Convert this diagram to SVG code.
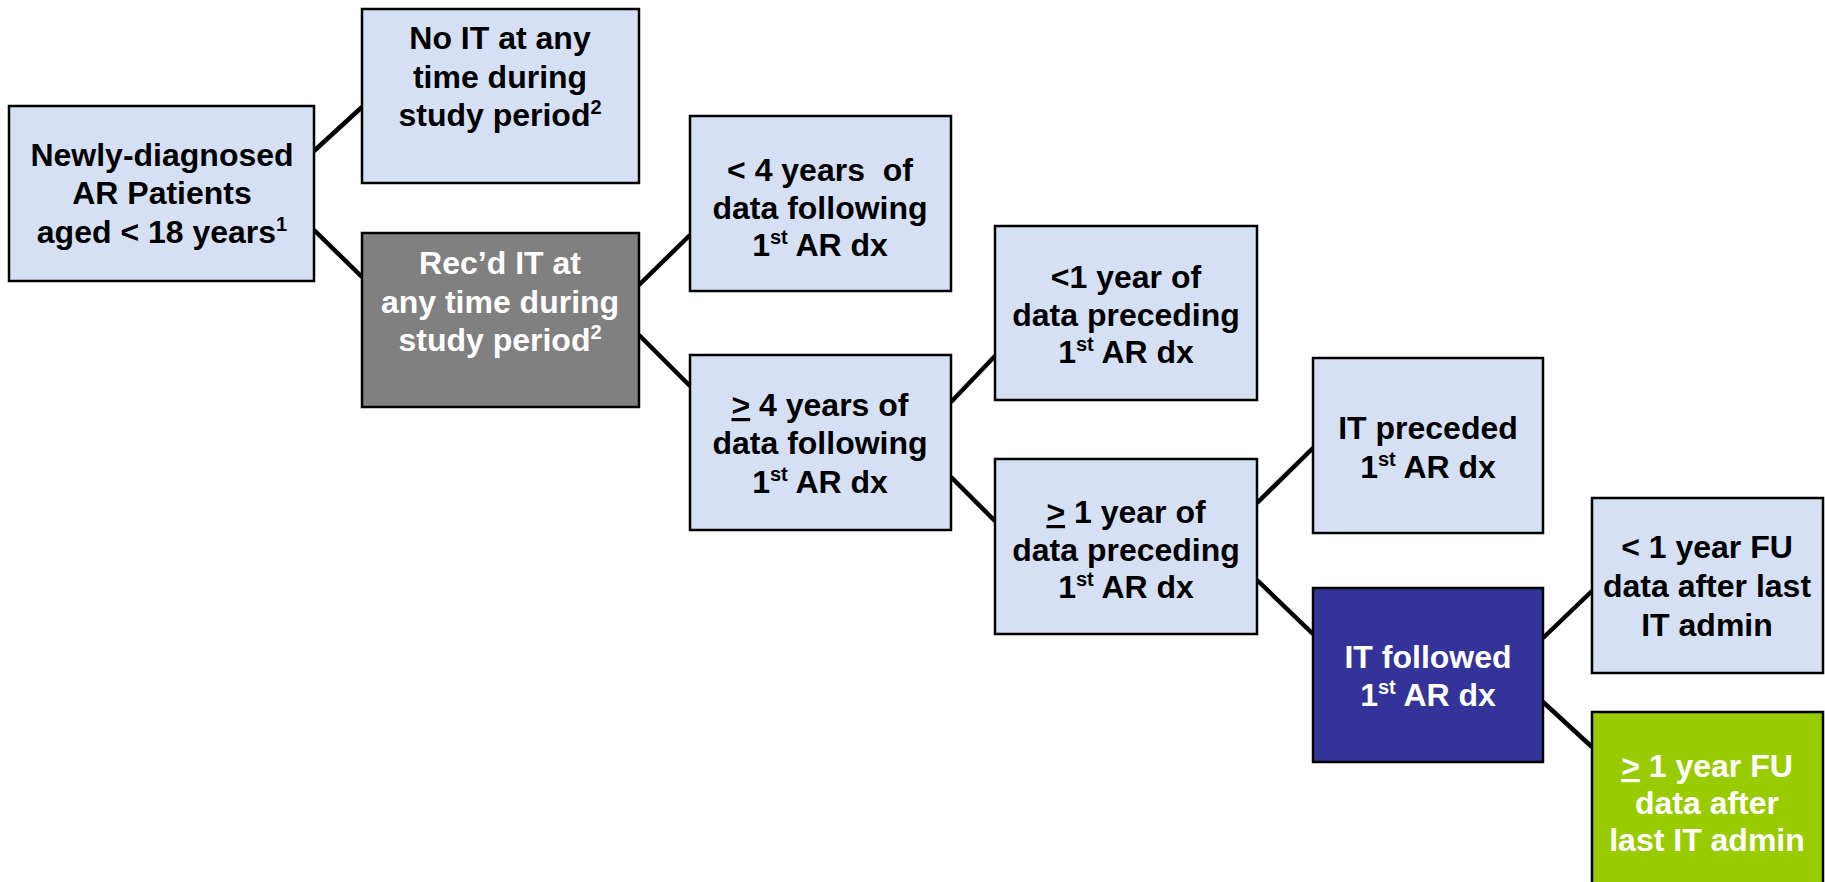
<svg xmlns="http://www.w3.org/2000/svg" width="1825" height="882" viewBox="0 0 1825 882">
<style>
.box{stroke:#000;stroke-width:2.5}
.lb{fill:#D6E0F4}
.gr{fill:#808080}
.db{fill:#333399}
.gn{fill:#99CC00}
text{font-family:"Liberation Sans",Arial,sans-serif;font-weight:bold;font-size:32px;text-anchor:middle;white-space:pre}
.k{fill:#000}
.w{fill:#fff}
.sup{font-size:20px}
.u{text-decoration:underline}
.conn line{stroke:#000;stroke-width:4.5}
</style>
<rect width="1825" height="882" fill="#fff"/>
<g class="conn" id="connectors">
<line x1="314" y1="151" x2="362" y2="107"/>
<line x1="314" y1="230" x2="362" y2="277"/>
<line x1="639" y1="285" x2="690" y2="235"/>
<line x1="639" y1="335" x2="690" y2="386"/>
<line x1="951" y1="402" x2="995" y2="356"/>
<line x1="951" y1="477" x2="995" y2="521"/>
<line x1="1257" y1="503" x2="1313" y2="448"/>
<line x1="1257" y1="580" x2="1313" y2="634"/>
<line x1="1543" y1="638" x2="1592" y2="591"/>
<line x1="1543" y1="702" x2="1592" y2="747"/>
</g>
<g id="n1">
<rect class="box lb" x="9" y="106" width="305" height="175"/>
<text class="k" x="162" y="166">Newly-diagnosed</text>
<text class="k" x="162" y="204">AR Patients</text>
<text class="k" x="162" y="243">aged &lt; 18 years<tspan class="sup" dy="-12">1</tspan></text>
</g>
<g id="n2">
<rect class="box lb" x="362" y="9" width="277" height="174"/>
<text class="k" x="500" y="49">No IT at any</text>
<text class="k" x="500" y="88">time during</text>
<text class="k" x="500" y="126">study period<tspan class="sup" dy="-12">2</tspan></text>
</g>
<g id="n3">
<rect class="box gr" x="362" y="233" width="277" height="174"/>
<text class="w" x="500" y="274">Rec’d IT at</text>
<text class="w" x="500" y="313">any time during</text>
<text class="w" x="500" y="351">study period<tspan class="sup" dy="-12">2</tspan></text>
</g>
<g id="n4">
<rect class="box lb" x="690" y="116" width="261" height="175"/>
<text class="k" x="820" y="181">&lt; 4 years  of</text>
<text class="k" x="820" y="219">data following</text>
<text class="k" x="820" y="256">1<tspan class="sup" dy="-12">st</tspan><tspan dy="12"> AR dx</tspan></text>
</g>
<g id="n5">
<rect class="box lb" x="690" y="355" width="261" height="175"/>
<text class="k" x="820" y="416"><tspan class="u">&gt;</tspan> 4 years of</text>
<text class="k" x="820" y="454">data following</text>
<text class="k" x="820" y="493">1<tspan class="sup" dy="-12">st</tspan><tspan dy="12"> AR dx</tspan></text>
</g>
<g id="n6">
<rect class="box lb" x="995" y="226" width="262" height="174"/>
<text class="k" x="1126" y="288">&lt;1 year of</text>
<text class="k" x="1126" y="326">data preceding</text>
<text class="k" x="1126" y="363">1<tspan class="sup" dy="-12">st</tspan><tspan dy="12"> AR dx</tspan></text>
</g>
<g id="n7">
<rect class="box lb" x="995" y="459" width="262" height="175"/>
<text class="k" x="1126" y="523"><tspan class="u">&gt;</tspan> 1 year of</text>
<text class="k" x="1126" y="561">data preceding</text>
<text class="k" x="1126" y="598">1<tspan class="sup" dy="-12">st</tspan><tspan dy="12"> AR dx</tspan></text>
</g>
<g id="n8">
<rect class="box lb" x="1313" y="358" width="230" height="175"/>
<text class="k" x="1428" y="439">IT preceded</text>
<text class="k" x="1428" y="478">1<tspan class="sup" dy="-12">st</tspan><tspan dy="12"> AR dx</tspan></text>
</g>
<g id="n9">
<rect class="box db" x="1313" y="588" width="230" height="174"/>
<text class="w" x="1428" y="668">IT followed</text>
<text class="w" x="1428" y="706">1<tspan class="sup" dy="-12">st</tspan><tspan dy="12"> AR dx</tspan></text>
</g>
<g id="n10">
<rect class="box lb" x="1592" y="498" width="231" height="175"/>
<text class="k" x="1707" y="558">&lt; 1 year FU</text>
<text class="k" x="1707" y="597">data after last</text>
<text class="k" x="1707" y="636">IT admin</text>
</g>
<g id="n11">
<rect class="box gn" x="1592" y="712" width="231" height="180"/>
<text class="w" x="1707" y="777"><tspan class="u">&gt;</tspan> 1 year FU</text>
<text class="w" x="1707" y="814">data after</text>
<text class="w" x="1707" y="851">last IT admin</text>
</g>
</svg>
